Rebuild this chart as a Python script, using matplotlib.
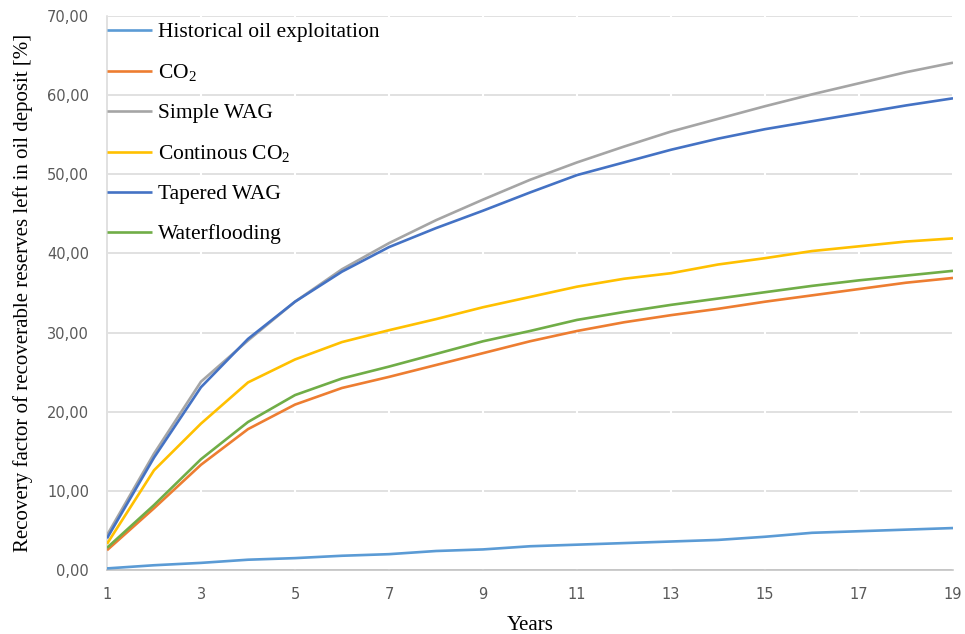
import matplotlib
matplotlib.use("Agg")
import matplotlib.pyplot as plt
from matplotlib.ticker import FuncFormatter, MultipleLocator

years = list(range(1, 20))

historical = [0.2, 0.6, 0.9, 1.3, 1.5, 1.8, 2.0, 2.4, 2.6, 3.0, 3.2, 3.4, 3.6, 3.8, 4.2, 4.7, 4.9, 5.1, 5.3]
co2 = [2.5, 7.8, 13.3, 17.8, 20.9, 23.0, 24.4, 25.9, 27.4, 28.9, 30.2, 31.3, 32.2, 33.0, 33.9, 34.7, 35.5, 36.3, 36.9]
simple_wag = [4.4, 14.7, 23.8, 29.0, 33.9, 38.0, 41.3, 44.2, 46.8, 49.3, 51.5, 53.5, 55.4, 57.0, 58.6, 60.1, 61.5, 62.9, 64.1]
continuous_co2 = [3.3, 12.6, 18.5, 23.7, 26.6, 28.8, 30.3, 31.7, 33.2, 34.5, 35.8, 36.8, 37.5, 38.6, 39.4, 40.3, 40.9, 41.5, 41.9]
tapered_wag = [4.0, 14.2, 23.1, 29.2, 33.9, 37.7, 40.8, 43.2, 45.4, 47.7, 49.9, 51.5, 53.1, 54.5, 55.7, 56.7, 57.7, 58.7, 59.6]
waterflooding = [2.8, 8.2, 14.0, 18.7, 22.1, 24.2, 25.7, 27.3, 28.9, 30.2, 31.6, 32.6, 33.5, 34.3, 35.1, 35.9, 36.6, 37.2, 37.8]

x_ticks = list(range(1, 20, 2))

labels = ["Historical oil exploitation", "CO$_2$", "Simple WAG",
          "Continous CO$_2$", "Tapered WAG", "Waterflooding"]
series = [historical, co2, simple_wag, continuous_co2, tapered_wag, waterflooding]
colors = ["#5B9BD5", "#ED7D31", "#A5A5A5", "#FFC000", "#4472C4", "#70AD47"]

plt.rcParams['mathtext.fontset'] = 'custom'
plt.rcParams['mathtext.rm'] = 'Liberation Serif'
plt.rcParams['mathtext.it'] = 'Liberation Serif:italic'

fig = plt.figure(figsize=(9.65, 6.34), dpi=100)
ax = fig.add_axes([107/965, (634-570)/634, (953-107)/965, (570-16)/634])

for s, lab, c in zip(series, labels, colors):
    ax.plot(years, s, color=c, lw=1.9, label=lab, zorder=3, solid_capstyle='butt')

ax.set_xlim(1, 19)
ax.set_ylim(0, 70)
ax.set_xticks(x_ticks)
ax.yaxis.set_major_locator(MultipleLocator(10))
ax.yaxis.set_major_formatter(FuncFormatter(lambda v, p: f"{v:.2f}".replace('.', ',')))

ax.set_axisbelow(True)
ax.grid(axis='y', color='#d9d9d9', lw=1.1)
for xt in x_ticks:
    ax.axvline(xt, color='white', lw=1.5, zorder=1)

for sp in ['top', 'right']:
    ax.spines[sp].set_visible(False)
ax.spines['left'].set_color('#d9d9d9')
ax.spines['bottom'].set_color('#bfbfbf')
ax.spines['left'].set_linewidth(1.1)
ax.spines['bottom'].set_linewidth(1.1)
ax.tick_params(length=0, labelsize=10.5, labelcolor='#595959')
ax.tick_params(axis='y', pad=13)
ax.tick_params(axis='x', pad=12)
for t in ax.get_xticklabels() + ax.get_yticklabels():
    t.set_family('DejaVu Sans')

ax.set_xlabel("Years", family='Liberation Serif', fontsize=15, labelpad=10)
ax.set_ylabel("Recovery factor of recoverable reserves left in oil deposit [%]",
              family='Liberation Serif', fontsize=15, labelpad=10)

leg = ax.legend(loc='upper left', bbox_to_anchor=(-0.007, 1.0), frameon=False,
                prop={'family': 'Liberation Serif', 'size': 15.5},
                handlelength=2.1, handletextpad=0.25, labelspacing=0.93,
                borderaxespad=0.0, borderpad=0.28)

fig.savefig("out.png", dpi=100)
